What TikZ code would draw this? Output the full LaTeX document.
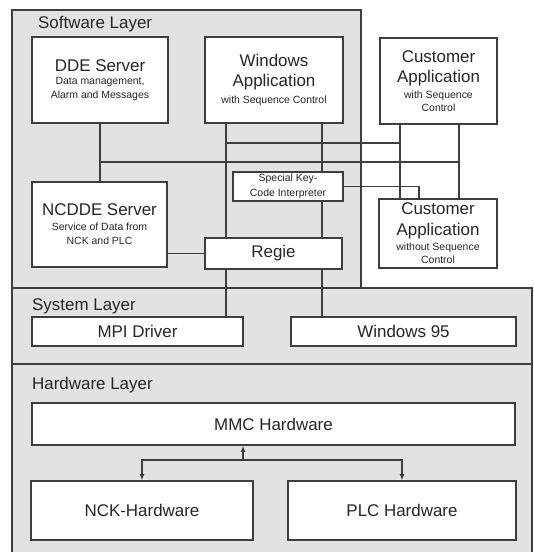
\documentclass[tikz,border=0pt]{standalone}
\usepackage{fontspec}
\setsansfont{Liberation Sans}
\usetikzlibrary{arrows.meta}

\definecolor{layergray}{RGB}{226,226,226}
\definecolor{linegray}{RGB}{62,62,62}
\newcommand{\bigtxt}{\sffamily\fontsize{17}{19}\selectfont}
\newcommand{\smalltxt}{\sffamily\fontsize{10.5}{13}\selectfont}

\tikzset{
  layer/.style={draw=linegray, line width=1.3bp, fill=layergray},
  box/.style={draw=linegray, line width=1.6bp, fill=white, inner sep=0pt, align=center, text=black!85},
  wire/.style={draw=linegray, line width=1.3bp},
  arr/.style={wire, -{Latex[length=6bp,width=5bp]}},
  layertitle/.style={anchor=west, inner sep=0pt, text=black!85}
}

\begin{document}
\begin{tikzpicture}[x=1bp, y=-1bp, font=\sffamily]
    \useasboundingbox (0,0) rectangle (534,552);
    % layers
    \draw[layer] (12,10) rectangle (361,288);
    \draw[layer] (12,288) rectangle (532,364);
    \fill[layergray] (12,364) rectangle (532,552);
    \draw[layer, fill=none] (12,552) -- (12,364) -- (532,364) -- (532,552);

    \node[layertitle] (swlabel) at (38,24) {\bigtxt Software Layer};
    \node[layertitle] (syslabel) at (32,306) {\bigtxt System Layer};
    \node[layertitle] (hwlabel) at (32,385) {\bigtxt Hardware Layer};

    % software layer
    \node[box, minimum width=136bp, minimum height=86bp] (dde) at (100,80)
        {\bigtxt DDE Server\\[1bp] \smalltxt Data management,\\[1.5bp] \smalltxt Alarm and Messages};
    \node[box, minimum width=138bp, minimum height=86bp] (winapp) at (274,80)
        {\bigtxt Windows\\[6.5bp] \bigtxt Application\\[4.5bp] \smalltxt with Sequence Control};
    \node[box, minimum width=117bp, minimum height=86bp] (custseq) at (438.5,81)
        {\bigtxt Customer\\[6.5bp] \bigtxt Application\\[4bp] \smalltxt with Sequence\\[1.5bp] \smalltxt Control};
    \node[box, minimum width=135bp, minimum height=85bp] (ncdde) at (99.5,224.5)
        {\bigtxt NCDDE Server\\[3bp] \smalltxt Service of Data from\\[2bp] \smalltxt NCK and PLC};
    \node[box, minimum width=110bp, minimum height=29bp] (keyint) at (288,186.5)
        {\smalltxt Special Key-\\[2.5bp] \smalltxt Code Interpreter};
    \node[box, minimum width=137bp, minimum height=31bp] (regie) at (273.5,253.5)
        {\bigtxt Regie};
    \node[box, minimum width=118bp, minimum height=69bp] (custnoseq) at (438,233.5)
        {\bigtxt Customer\\[7bp] \bigtxt Application\\[3bp] \smalltxt without Sequence\\[1.5bp] \smalltxt Control};

    % system layer
    \node[box, minimum width=211bp, minimum height=29bp] (mpi) at (137.5,331.5) {\bigtxt MPI Driver};
    \node[box, minimum width=225bp, minimum height=29bp] (win95) at (403.5,331.5) {\bigtxt Windows 95};

    % hardware layer
    \node[box, minimum width=483bp, minimum height=42bp] (mmc) at (273.5,424) {\bigtxt MMC Hardware};
    \node[box, minimum width=222bp, minimum height=59bp] (nck) at (142,510.5) {\bigtxt NCK-Hardware};
    \node[box, minimum width=228bp, minimum height=59bp] (plc) at (402,510.5) {\bigtxt PLC Hardware};

    % wiring
    \coordinate (colA) at (226,0);
    \coordinate (colB) at (322,0);
    \coordinate (colC) at (400,0);
    \coordinate (colD) at (459,0);
    \coordinate (colE) at (419,0);
    \coordinate (rowA) at (0,143);
    \coordinate (rowB) at (0,162);

    \draw[wire] (dde.south) -- (dde.south |- ncdde.north);
    \draw[wire] (winapp.south -| colA) -- (regie.north -| colA);
    \draw[wire] (regie.south -| colA) -- (mpi.north -| colA);
    \draw[wire] (winapp.south -| colB) -- (keyint.north -| colB);
    \draw[wire] (keyint.south -| colB) -- (regie.north -| colB);
    \draw[wire] (regie.south -| colB) -- (win95.north -| colB);
    \draw[wire] (custseq.south -| colC) -- (custnoseq.north -| colC);
    \draw[wire] (custseq.south -| colD) -- (custnoseq.north -| colD);
    \draw[wire] (rowA -| colA) -- (rowA -| colC);
    \draw[wire] (rowB -| dde.south) -- (rowB -| colD);
    \draw[wire] (keyint.east) -- (keyint.east -| colE) -- (custnoseq.north -| colE);
    \draw[wire] (regie.west) -- (regie.west -| ncdde.east);

    \coordinate (hwjoin) at (243,460);
    \draw[arr] (hwjoin) -- (mmc.south -| hwjoin);
    \draw[arr] (hwjoin) -| (nck.north);
    \draw[arr] (hwjoin) -| (plc.north);

\end{tikzpicture}
\end{document}
